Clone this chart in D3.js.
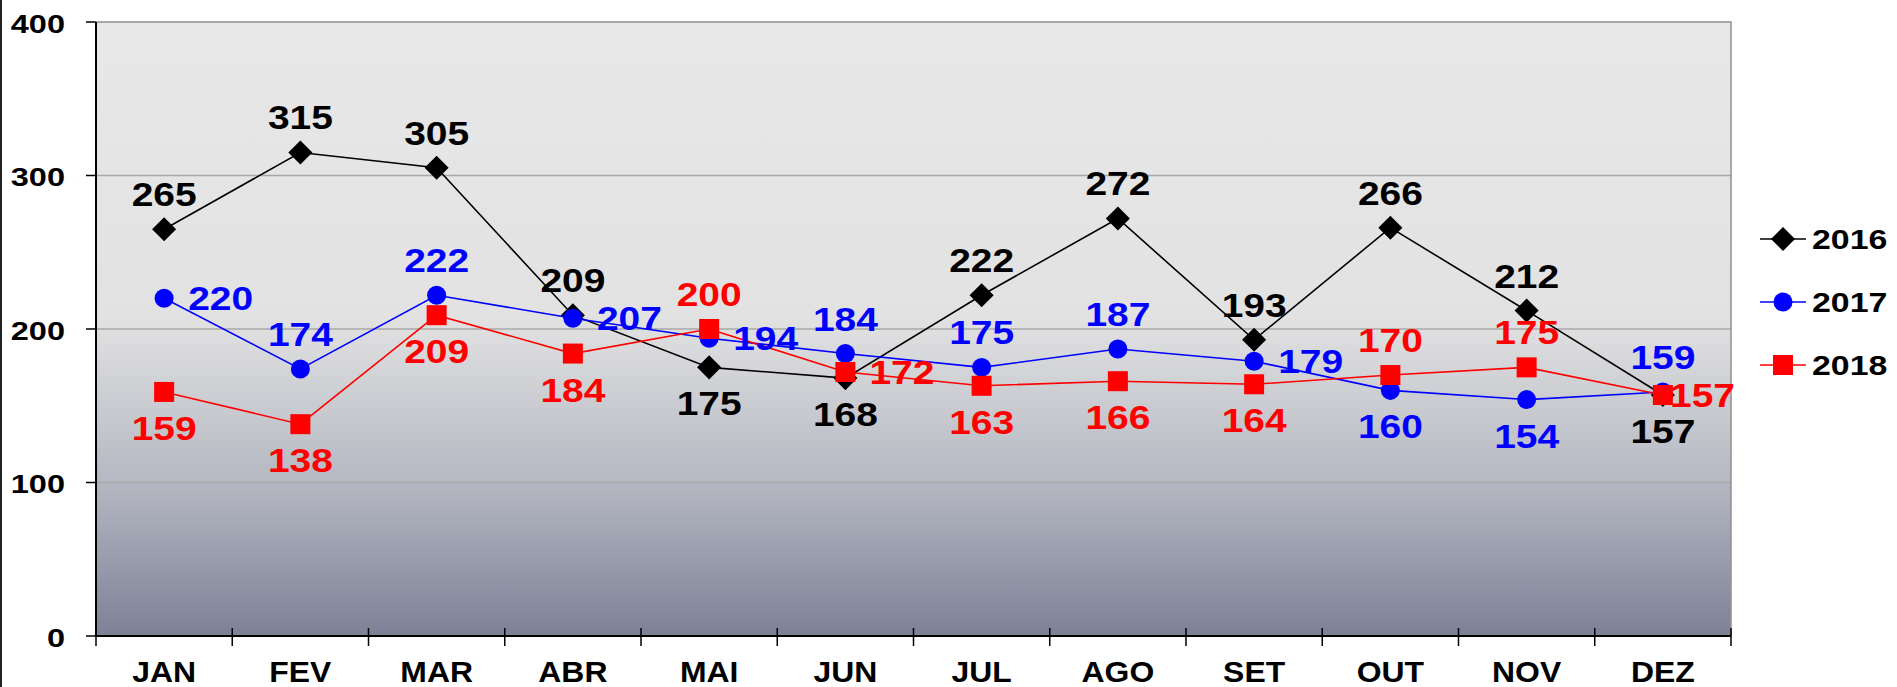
<!DOCTYPE html>
<html>
<head>
<meta charset="utf-8">
<script src="https://cdn.jsdelivr.net/npm/d3@7"></script>
<style>
  body { margin: 0; background: #fff; }
  svg { display: block; }
  text { font-family: "Liberation Sans", Arial, sans-serif; font-weight: bold; }
</style>
</head>
<body>
<script>
var months = ["JAN", "FEV", "MAR", "ABR", "MAI", "JUN", "JUL", "AGO", "SET", "OUT", "NOV", "DEZ"];
var years = ["2016", "2017", "2018"];
var values2016 = [265, 315, 305, 209, 175, 168, 222, 272, 193, 266, 212, 157];
var values2017 = [220, 174, 222, 207, 194, 184, 175, 187, 179, 160, 154, 159];
var values2018 = [159, 138, 209, 184, 200, 172, 163, 166, 164, 170, 175, 157];
var yTicks = [0, 100, 200, 300, 400];

var width = 1897,
    height = 687;

var plotLeft = 96, plotRight = 1731, plotTop = 22, plotBottom = 636;

var svg = d3.select("body").append("svg")
    .attr("width", width)
    .attr("height", height);

var x = d3.scaleBand().domain(months).range([plotLeft, plotRight]);
var y = d3.scaleLinear().domain([0, 400]).range([plotBottom, plotTop]);

// label placement per point: t = above, b = below, r = right
var place = {
  "2016": ["t", "t", "t", "t", "b", "b", "t", "t", "t", "t", "t", "b"],
  "2017": ["r", "t", "t", "r", "r", "t", "t", "t", "r", "b", "b", "t"],
  "2018": ["b", "b", "b", "b", "t", "r", "b", "b", "b", "t", "t", "r"]
};

var series = [
  { name: years[0], values: values2016, color: "#000000", shape: "diamond" },
  { name: years[1], values: values2017, color: "#0000ff", shape: "circle" },
  { name: years[2], values: values2018, color: "#ff0000", shape: "square" }
];

function marker(sel, shape, color) {
  if (shape == "diamond") {
    sel.append("path")
      .attr("d", d3.symbol(d3.symbolSquare, 290)())
      .attr("transform", "rotate(45)")
      .attr("fill", color);
  } else if (shape == "circle") {
    sel.append("circle").attr("r", 9.5).attr("fill", color);
  } else {
    sel.append("rect").attr("x", -10).attr("y", -10).attr("width", 20).attr("height", 20).attr("fill", color);
  }
}

// the original's text is stretched sideways, so each text gets a scaleX
function label(g, px, py, txt, size, sx, anchor, color) {
  return g.append("text")
    .attr("transform", "translate(" + px + "," + py + ") scale(" + sx + ",1)")
    .attr("text-anchor", anchor)
    .attr("font-size", size)
    .attr("fill", color)
    .text(txt);
}

// background gradient
var grad = svg.append("defs").append("linearGradient")
    .attr("id", "bg").attr("x1", 0).attr("y1", 0).attr("x2", 0).attr("y2", 1);
grad.append("stop").attr("offset", "0%").attr("stop-color", "#e8e8e8");
grad.append("stop").attr("offset", "48%").attr("stop-color", "#e2e2e2");
grad.append("stop").attr("offset", "75%").attr("stop-color", "#b5b8c2");
grad.append("stop").attr("offset", "100%").attr("stop-color", "#7c8196");

svg.append("rect")
    .attr("x", plotLeft).attr("y", plotTop)
    .attr("width", plotRight - plotLeft).attr("height", plotBottom - plotTop)
    .attr("fill", "url(#bg)");

// grid
svg.selectAll(".grid")
    .data(yTicks.filter(function(d) { return d > 0 && d < 400; }))
  .enter().append("line")
    .attr("x1", plotLeft).attr("x2", plotRight)
    .attr("y1", function(d) { return y(d); })
    .attr("y2", function(d) { return y(d); })
    .attr("stroke", "#a8a8a8").attr("stroke-width", 1.5);

// plot border top/right
svg.append("path")
    .attr("d", "M" + plotLeft + "," + plotTop + "H" + plotRight + "V" + plotBottom)
    .attr("fill", "none").attr("stroke", "#909090").attr("stroke-width", 1.5);

// left edge line of the picture
svg.append("line").attr("x1", 1).attr("x2", 1).attr("y1", 0).attr("y2", height)
    .attr("stroke", "#222").attr("stroke-width", 2);

// y axis
var yAxis = svg.append("g");
yAxis.append("line").attr("x1", plotLeft).attr("x2", plotLeft).attr("y1", plotTop).attr("y2", plotBottom)
    .attr("stroke", "#000").attr("stroke-width", 2);
yAxis.selectAll(".tick")
    .data(yTicks)
  .enter().append("line")
    .attr("x1", plotLeft - 10).attr("x2", plotLeft)
    .attr("y1", function(d) { return y(d); })
    .attr("y2", function(d) { return y(d); })
    .attr("stroke", "#000").attr("stroke-width", 1.5);
yTicks.forEach(function(d) {
  label(yAxis, 65, y(d) + 10.5, d, 25, 1.3, "end", "#000");
});

// x axis
var xAxis = svg.append("g");
xAxis.append("line").attr("x1", plotLeft).attr("x2", plotRight).attr("y1", plotBottom).attr("y2", plotBottom)
    .attr("stroke", "#000").attr("stroke-width", 2);
var bounds = months.map(function(m) { return x(m); }).concat([plotRight]);
xAxis.selectAll(".tick")
    .data(bounds)
  .enter().append("line")
    .attr("x1", function(d) { return d; })
    .attr("x2", function(d) { return d; })
    .attr("y1", function(d, i) { return (i == 0) ? plotBottom : plotBottom - 8; })
    .attr("y2", plotBottom + 10)
    .attr("stroke", "#000").attr("stroke-width", 1.5);
months.forEach(function(m) {
  label(xAxis, x(m) + x.bandwidth() / 2, 682, m, 29, 1.1, "middle", "#000");
});

function cx(i) { return x(months[i]) + x.bandwidth() / 2; }

var line = d3.line()
    .x(function(d, i) { return cx(i); })
    .y(function(d) { return y(d); });

// lines and markers
series.forEach(function(s) {
  svg.append("path")
      .datum(s.values)
      .attr("d", line)
      .attr("fill", "none")
      .attr("stroke", s.color)
      .attr("stroke-width", 1.6);
  s.values.forEach(function(v, i) {
    var g = svg.append("g").attr("transform", "translate(" + cx(i) + "," + y(v) + ")");
    marker(g, s.shape, s.color);
  });
});

// data labels
var labels = svg.append("g");
var lsx = 1.18;
series.forEach(function(s) {
  s.values.forEach(function(v, i) {
    var p = place[s.name][i], px = cx(i), py = y(v);
    if (p == "t") label(labels, px, py - 23, v, 33, lsx, "middle", s.color);
    else if (p == "b") label(labels, px, py + 48, v, 33, lsx, "middle", s.color);
    else {
      var t = label(labels, px + 24, py + 12, v, 33, lsx, "start", s.color);
      var len = t.node().getComputedTextLength() * lsx;
      // keep it inside the plot, like the original pushes it back in
      if (px + 24 + len > plotRight + 4) {
        t.attr("transform", "translate(" + (plotRight + 4 - len) + "," + (py + 12) + ") scale(" + lsx + ",1)");
      }
    }
  });
});

// legend
var legend = svg.selectAll(".legend")
    .data(series)
  .enter().append("g")
    .attr("transform", function(d, i) { return "translate(1783," + (239 + i * 63) + ")"; });
legend.append("line")
    .attr("x1", -23).attr("x2", 23)
    .attr("stroke", function(d) { return d.color; })
    .attr("stroke-width", 1.6);
legend.each(function(d) {
  marker(d3.select(this).append("g"), d.shape, d.color);
});
legend.each(function(d) {
  label(d3.select(this), 29, 10, d.name, 28, 1.21, "start", "#000");
});
</script>
</body>
</html>
